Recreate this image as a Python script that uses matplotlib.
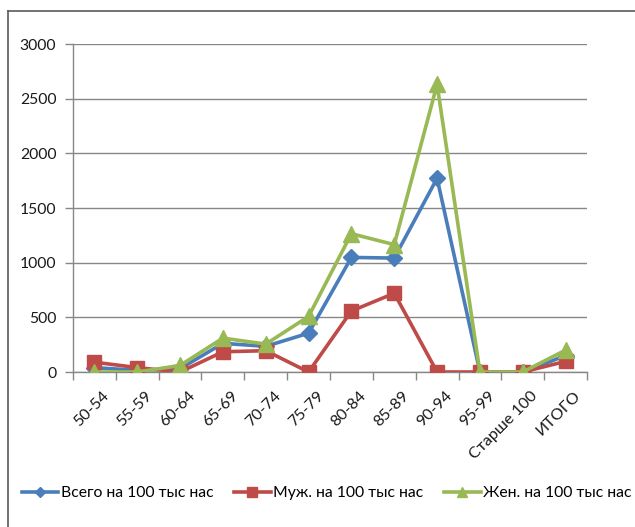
import numpy as np
import matplotlib.pyplot as plt
import matplotlib.transforms as mtransforms
from matplotlib.lines import Line2D

# ── Data ───────────────────────────────────────────────────────────────────────

categories = ['50-54', '55-59', '60-64', '65-69', '70-74', '75-79',
              '80-84', '85-89', '90-94', '95-99', 'Старше 100', 'ИТОГО']

total = [40, 15, 30, 262, 235, 355, 1048, 1042, 1772, 0, 0, 150]
men = [90, 40, 0, 185, 195, 0, 558, 720, 0, 0, 0, 97]
women = [0, 0, 60, 310, 255, 508, 1265, 1165, 2630, 0, 0, 200]

series_labels = ['Всего на 100 тыс нас', 'Муж. на 100 тыс нас', 'Жен. на 100 тыс нас']
yticks = [0, 500, 1000, 1500, 2000, 2500, 3000]

# ── Style ──────────────────────────────────────────────────────────────────────

BLUE = '#4A7EBB'
RED = '#BE4B48'
GREEN = '#98B954'
GRID = '#878787'
TXT = '#1a1a1a'

plt.rcParams['font.family'] = ['Lato', 'DejaVu Sans']

W, H = 635, 527
fig = plt.figure(figsize=(W / 100, H / 100), dpi=100)
fig.patch.set_facecolor('white')

# chart-area frame (left + top edges visible in the screenshot)
fig.add_artist(Line2D([8 / W, 8 / W], [0, 1 - 11 / H], transform=fig.transFigure,
                      color='#5a5a5a', lw=1.2))
fig.add_artist(Line2D([8 / W, 1], [1 - 11 / H, 1 - 11 / H], transform=fig.transFigure,
                      color='#5a5a5a', lw=1.2))

ax = fig.add_axes([73 / W, 1 - 372 / H, (587 - 73) / W, (372 - 44) / H])

x = np.arange(len(categories))
ax.plot(x, total, color=BLUE, lw=2.6, marker='D', ms=8, mfc=BLUE, mec=BLUE,
        label=series_labels[0], zorder=3)
ax.plot(x, men, color=RED, lw=2.6, marker='s', ms=10, mfc=RED, mec=RED,
        label=series_labels[1], zorder=4)
ax.plot(x, women, color=GREEN, lw=2.6, marker='^', ms=11, mfc=GREEN, mec=GREEN,
        label=series_labels[2], zorder=5)

ax.set_xlim(-0.5, len(categories) - 0.5)
ax.set_ylim(0, 3000)
ax.set_yticks(yticks)
ax.set_yticklabels([str(v) for v in yticks], fontsize=11.3, color=TXT)
ax.yaxis.grid(True, color=GRID, lw=1)
ax.set_axisbelow(True)

ax.set_xticks(x)
ax.set_xticklabels(categories, rotation=45, ha='right', va='top',
                   rotation_mode='anchor', fontsize=11.5, color=TXT)
ax.tick_params(axis='x', which='major', length=0, pad=12)
shift = mtransforms.ScaledTranslation(8 / 100, 0, fig.dpi_scale_trans)
for lbl in ax.get_xticklabels():
    lbl.set_transform(lbl.get_transform() + shift)
ax.set_xticks(np.arange(-0.5, len(categories), 1.0), minor=True)
ax.tick_params(axis='x', which='minor', length=6, color=GRID, width=1)
ax.tick_params(axis='y', length=6, color=GRID, width=1, pad=6)

for side in ('top', 'right'):
    ax.spines[side].set_visible(False)
for side in ('left', 'bottom'):
    ax.spines[side].set_color(GRID)
    ax.spines[side].set_linewidth(1)

fig.legend(loc='center', bbox_to_anchor=(0.5 + 9 / W, 1 - 493 / H), ncol=3,
           frameon=False, fontsize=11.3, handlelength=2.35, columnspacing=1.3,
           handletextpad=0.15, markerscale=0.65)

fig.savefig('out.png', dpi=100)
